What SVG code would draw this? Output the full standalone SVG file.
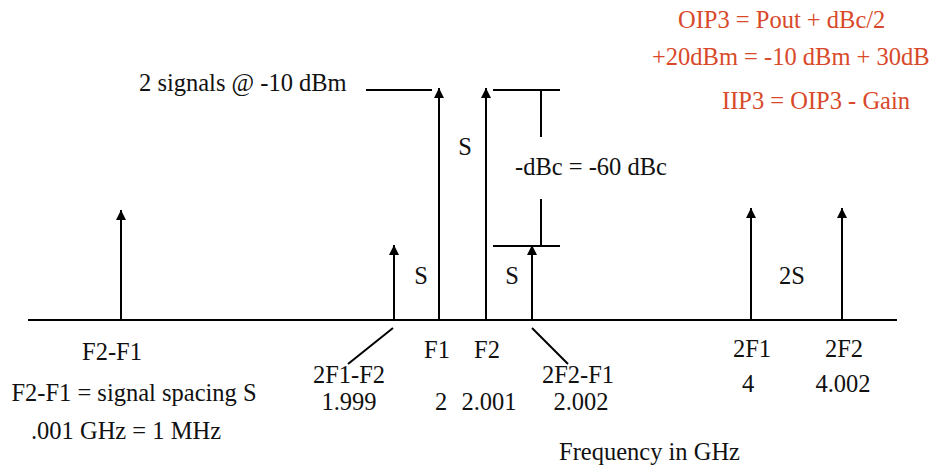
<svg xmlns="http://www.w3.org/2000/svg" width="929" height="473" viewBox="0 0 929 473">
<style>
text{font-family:"Liberation Serif","Times New Roman",serif;font-size:24.5px;fill:#111}
.r{fill:#D8492A}
.m{text-anchor:middle}
.ln{stroke:#000;stroke-width:2;fill:none}
</style>
<defs>
<marker id="ah" markerUnits="userSpaceOnUse" markerWidth="10" markerHeight="10" viewBox="0 0 10 10" refX="10" refY="5" orient="auto">
<path d="M0,0 L10,5 L0,10 Z" fill="#000"/>
</marker>
</defs>
<rect width="929" height="473" fill="#fff"/>
<g id="axis"><line class="ln" x1="28" y1="320" x2="897" y2="320"/></g>
<g id="connectors">
<line class="ln" x1="121" y1="320" x2="121" y2="210" marker-end="url(#ah)"/>
<line class="ln" x1="394" y1="320" x2="394" y2="245" marker-end="url(#ah)"/>
<line class="ln" x1="439" y1="320" x2="439" y2="88" marker-end="url(#ah)"/>
<line class="ln" x1="486" y1="320" x2="486" y2="88" marker-end="url(#ah)"/>
<line class="ln" x1="532" y1="320" x2="532" y2="245" marker-end="url(#ah)"/>
<line class="ln" x1="751" y1="320" x2="751" y2="208" marker-end="url(#ah)"/>
<line class="ln" x1="842" y1="320" x2="842" y2="208" marker-end="url(#ah)"/>
<line class="ln" x1="366" y1="90" x2="432" y2="90"/>
<line class="ln" x1="493" y1="90" x2="560" y2="90"/>
<line class="ln" x1="493" y1="246" x2="560" y2="246"/>
<line class="ln" x1="541" y1="90" x2="541" y2="137"/>
<line class="ln" x1="541" y1="199" x2="541" y2="246"/>
<line class="ln" x1="393" y1="328" x2="348" y2="364" stroke-width="1.6"/>
<line class="ln" x1="532" y1="328" x2="568" y2="364" stroke-width="1.6"/>
</g>
<g id="formulas">
<text class="r" x="678" y="28">OIP3 = Pout + dBc/2</text>
<text class="r" x="652" y="65">+20dBm = -10 dBm + 30dB</text>
<text class="r" x="722" y="109">IIP3 = OIP3 - Gain</text>
</g>
<g id="signals-label"><text x="139" y="91">2 signals @ -10 dBm</text></g>
<g id="dbc-label"><text x="515" y="175">-dBc = -60 dBc</text></g>
<g id="spacing-labels">
<text class="m" x="465" y="155">S</text>
<text class="m" x="421" y="284">S</text>
<text class="m" x="512" y="284">S</text>
<text class="m" x="792" y="284">2S</text>
</g>
<g id="f2-f1">
<text class="m" x="112" y="360">F2-F1</text>
<text class="m" x="134" y="401">F2-F1 = signal spacing S</text>
<text class="m" x="126" y="439">.001 GHz = 1 MHz</text>
</g>
<g id="im-low">
<text class="m" x="349" y="383">2F1-F2</text>
<text class="m" x="349" y="410">1.999</text>
</g>
<g id="f1">
<text class="m" x="437" y="358">F1</text>
<text class="m" x="441" y="410">2</text>
</g>
<g id="f2">
<text class="m" x="487" y="358">F2</text>
<text class="m" x="489" y="410">2.001</text>
</g>
<g id="im-high">
<text class="m" x="578" y="383">2F2-F1</text>
<text class="m" x="581" y="410">2.002</text>
</g>
<g id="h2-f1">
<text class="m" x="752" y="357">2F1</text>
<text class="m" x="748" y="392">4</text>
</g>
<g id="h2-f2">
<text class="m" x="844" y="357">2F2</text>
<text class="m" x="843" y="392">4.002</text>
</g>
<g id="xlabel"><text x="559" y="460">Frequency in GHz</text></g>
</svg>
